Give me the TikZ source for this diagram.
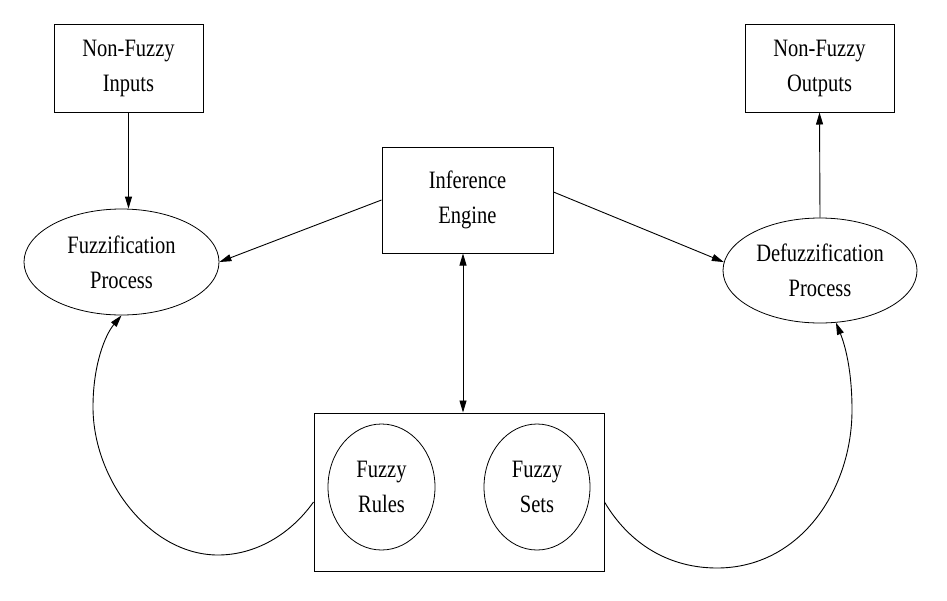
\documentclass[tikz,border=0pt]{standalone}
\usepackage{fontspec}
\setmainfont{Liberation Serif}[FakeStretch=0.82]
\usetikzlibrary{arrows.meta,shapes.geometric}
\tikzset{
  lbl/.style={font=\fontsize{25}{35}\selectfont, align=center, inner sep=0pt},
  boxnode/.style={lbl, draw, line width=1pt, rectangle},
  ellnode/.style={lbl, draw, line width=0.8pt, ellipse},
  conn/.style={line width=0.9pt, -{Triangle[length=12pt,width=7pt]}},
  dconn/.style={line width=0.9pt, {Triangle[length=12pt,width=7pt]}-{Triangle[length=12pt,width=7pt]}},
}
\begin{document}
\begin{tikzpicture}[x=1pt,y=-1pt]
\useasboundingbox[fill=white] (0,0) rectangle (947,600);
\node[boxnode, minimum width=149pt, minimum height=88pt] (inp) at (128.5,68) {Non-Fuzzy\\Inputs};
\node[boxnode, minimum width=149pt, minimum height=88pt] (out) at (819.5,68) {Non-Fuzzy\\Outputs};
\node[boxnode, minimum width=171pt, minimum height=106pt] (ie) at (467.5,200) {Inference\\Engine};
\node[ellnode, minimum width=195pt, minimum height=106pt] (fuzz) at (121.5,262) {Fuzzification\\Process};
\node[ellnode, minimum width=194pt, minimum height=105pt] (defuzz) at (820,270.5) {Defuzzification\\Process};
\node[boxnode, minimum width=290pt, minimum height=158pt] (kb) at (459,492) {};
\node[ellnode, minimum width=107pt, minimum height=126pt] (rules) at (381.5,487) {Fuzzy\\Rules};
\node[ellnode, minimum width=106pt, minimum height=126pt] (sets) at (537,487) {Fuzzy\\Sets};

\draw[conn] (inp.south) -- (inp.south |- fuzz.north);
\draw[conn] (ie.west) -- (fuzz.east);
\draw[conn] ([yshift=8pt]ie.east) -- (defuzz.175);
\draw[dconn] ([xshift=4pt]kb.north |- ie.south) -- ([xshift=4pt]kb.north);
\draw[conn] (defuzz.north) -- (out.south);

\draw[conn] ([yshift=-10pt]kb.west) .. controls (290,535) and (255,555) .. (218,555)
  .. controls (150,555) and (93,480) .. (93,407)
  .. controls (93,365) and (105,335) .. (fuzz.south);
\draw[conn] ([yshift=-10pt]kb.east) .. controls (630,545) and (670,568) .. (717,568)
  .. controls (800,568) and (852,490) .. (852,410)
  .. controls (852,370) and (845,345) .. (defuzz.-73);
\end{tikzpicture}
\end{document}
